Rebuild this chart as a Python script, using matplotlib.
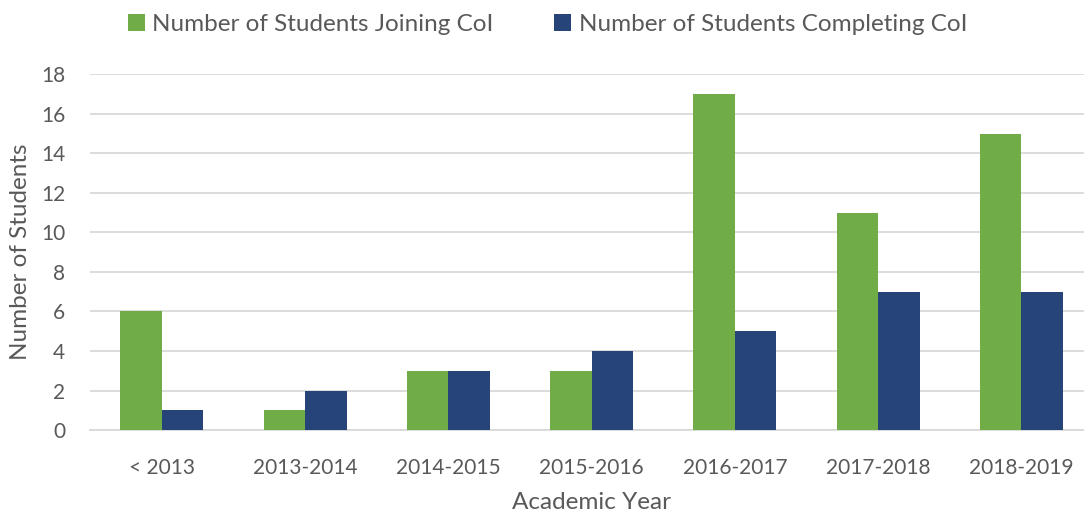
import matplotlib
matplotlib.use("Agg")
import matplotlib.pyplot as plt
import numpy as np

categories = ["< 2013", "2013-2014", "2014-2015", "2015-2016", "2016-2017", "2017-2018", "2018-2019"]
joining = [6, 1, 3, 3, 17, 11, 15]
completing = [1, 2, 3, 4, 5, 7, 7]

plt.rcParams['font.family'] = ['Lato', 'DejaVu Sans']
text_color = "#595959"

fig = plt.figure(figsize=(10.84, 5.12), dpi=100)
ax = fig.add_axes([0.0833, 0.160, 0.925, 0.695])

x = np.arange(len(categories))
w = 0.29
ax.bar(x - w/2, joining, w, color="#70AD47", label="Number of Students Joining CoI", zorder=3)
ax.bar(x + w/2, completing, w, color="#264478", label="Number of Students Completing CoI", zorder=3)

ax.set_xlim(-0.5, len(categories) - 0.5)
ax.set_ylim(0, 18)
ax.set_yticks(range(0, 19, 2))
ax.yaxis.grid(True, color="#D9D9D9", linewidth=1.3, zorder=0)
ax.set_axisbelow(True)
for s in ["top", "right", "left"]:
    ax.spines[s].set_visible(False)
ax.spines["bottom"].set_color("#D9D9D9")
ax.spines["bottom"].set_linewidth(1.3)
ax.tick_params(axis="x", length=0, labelsize=15, colors=text_color, pad=20)
ax.tick_params(axis="y", length=0, labelsize=15, colors=text_color, pad=18)
ax.set_xticks(x)
ax.set_xticklabels(categories)
ax.set_xlabel("Academic Year", fontsize=17.5, color=text_color, labelpad=10)
ax.set_ylabel("Number of Students", fontsize=17.5, color=text_color, va="center")
ax.yaxis.set_label_coords(-0.070, 0.5)

fig.legend(loc="upper center", bbox_to_anchor=(0.505, 1.015), ncol=2, frameon=False,
           fontsize=17.5, labelcolor=text_color, handlelength=0.7, handleheight=0.7,
           handletextpad=0.3, columnspacing=2.5)

fig.savefig("out.png", dpi=100)
